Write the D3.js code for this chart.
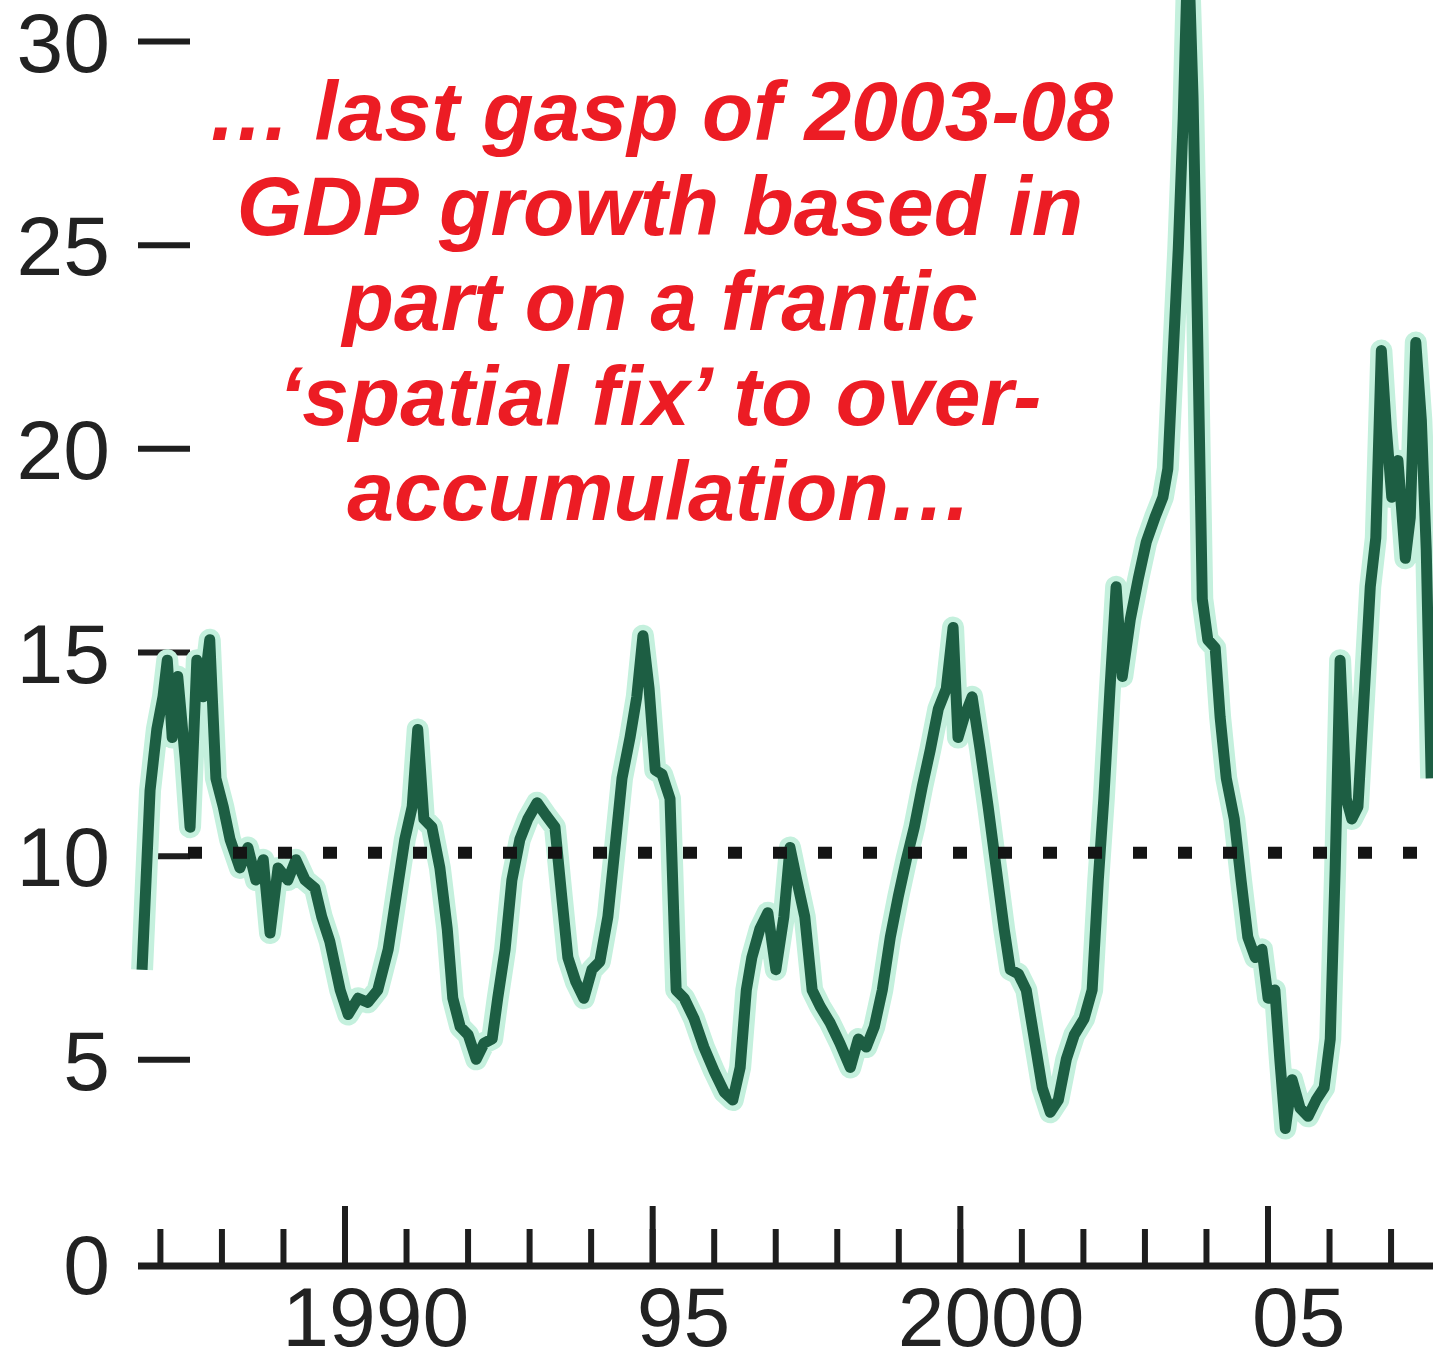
<!DOCTYPE html>
<html>
<head>
<meta charset="utf-8">
<script src="https://cdn.jsdelivr.net/npm/d3@7"></script>
<style>
  html, body { margin: 0; padding: 0; background: #ffffff; }
  svg { display: block; }
</style>
</head>
<body>
<script>
// ---- Data ----
const years = [1986.71,1986.84,1986.95,1987.05,1987.12,1987.20,1987.29,1987.41,1987.49,1987.60,1987.70,1987.81,1987.91,
 1988.03,1988.14,1988.30,1988.43,1988.56,1988.68,1988.79,1988.92,1989.08,1989.21,1989.36,1989.52,1989.63,1989.76,1989.93,
 1990.06,1990.22,1990.38,1990.54,1990.71,1990.84,1990.98,1991.10,1991.19,1991.29,1991.42,1991.55,1991.67,1991.76,1991.88,
 1992.01,1992.14,1992.27,1992.40,1992.49,1992.61,1992.72,1992.85,1992.98,1993.13,1993.27,1993.42,1993.53,1993.63,1993.76,1993.89,
 1994.02,1994.15,1994.28,1994.41,1994.51,1994.64,1994.75,1994.85,1994.95,1995.05,1995.16,1995.29,1995.39,1995.52,1995.68,1995.84,
 1996.01,1996.17,1996.31,1996.43,1996.53,1996.62,1996.75,1996.88,1997.01,1997.14,1997.24,1997.35,1997.48,1997.60,1997.73,1997.89,
 1998.05,1998.22,1998.35,1998.48,1998.61,1998.74,1998.87,1999.00,1999.13,1999.26,1999.39,1999.52,1999.65,1999.78,1999.89,1999.97,
 2000.07,2000.20,2000.33,2000.46,2000.59,2000.72,2000.82,2000.95,2001.08,2001.21,2001.34,2001.47,2001.60,2001.73,2001.86,
 2002.02,2002.15,2002.25,2002.34,2002.44,2002.54,2002.64,2002.77,2002.90,2003.03,2003.17,2003.30,2003.38,2003.47,2003.55,2003.63,
 2003.71,2003.79,2003.86,2003.94,2004.03,2004.15,2004.23,2004.33,2004.46,2004.57,2004.68,2004.80,2004.91,2005.01,2005.12,2005.20,
 2005.29,2005.40,2005.53,2005.66,2005.79,2005.92,2006.02,2006.10,2006.18,2006.28,2006.37,2006.47,2006.57,2006.67,2006.76,2006.85,
 2006.93,2007.02,2007.12,2007.24,2007.32,2007.41,2007.50,2007.58,2007.66];
const growth = [7.2,11.6,13.1,13.9,14.8,12.9,14.4,12.4,10.7,14.8,13.9,15.3,11.9,
 11.2,10.4,9.7,10.2,9.4,9.9,8.1,9.7,9.4,9.9,9.4,9.2,8.5,7.9,6.7,
 6.1,6.5,6.4,6.7,7.7,9.0,10.4,11.2,13.1,10.9,10.7,9.7,8.2,6.5,5.8,
 5.6,5.0,5.4,5.5,6.5,7.7,9.4,10.4,10.9,11.3,11.0,10.7,9.0,7.5,6.9,6.5,
 7.2,7.4,8.5,10.4,11.9,12.9,13.9,15.4,14.1,12.1,12.0,11.4,6.7,6.5,6.0,5.3,
 4.7,4.2,4.0,4.8,6.7,7.5,8.2,8.6,7.2,8.5,10.2,9.4,8.5,6.7,6.3,5.9,
 5.4,4.8,5.5,5.3,5.8,6.7,8.0,9.0,9.9,10.7,11.7,12.6,13.6,14.1,15.6,12.9,
 13.4,13.9,12.6,11.2,9.7,8.2,7.2,7.1,6.7,5.5,4.3,3.7,4.0,5.0,5.6,
 6.0,6.7,9.4,11.4,14.1,16.6,14.4,15.8,16.8,17.7,18.3,18.8,19.5,22.4,24.9,28.1,
 32.5,28.6,23.2,16.3,15.3,15.1,13.4,11.9,10.9,9.4,8.0,7.5,7.7,6.5,6.7,5.0,
 3.3,4.5,3.8,3.6,4.0,4.3,5.5,9.7,14.8,11.4,10.9,11.2,13.9,16.6,17.8,22.4,
 20.5,18.8,19.7,17.3,18.3,22.6,20.7,17.5,11.9];

const yTicks = [0, 5, 10, 15, 20, 25, 30];
const minorYears = d3.range(1987, 2008);
const majorYears = [1990, 1995, 2000, 2005];
const xLabels = ["1990", "95", "2000", "05"];
const refValue = 10;
const note = ["\u2026 last gasp of 2003-08", "GDP growth based in", "part on a frantic",
              "\u2018spatial fix\u2019 to over-", "accumulation\u2026"];

// ---- Layout ----
const W = 1433, H = 1355;
const svg = d3.select("body").append("svg").attr("width", W).attr("height", H);
svg.append("rect").attr("width", W).attr("height", H).attr("fill", "#ffffff");

const x = d3.scaleLinear().domain([1990, 2005]).range([344.5, 1267.5]);
const y = d3.scaleLinear().domain([0, 30]).range([1263, 41]);
const FONT = "'Liberation Sans', Arial, Helvetica, sans-serif";

// Y axis: labels + short dashes
const yAxis = d3.axisLeft(y).tickValues(yTicks).tickSize(52).tickPadding(28)
  .tickFormat(d3.format("d"));
const gy = svg.append("g").attr("transform", "translate(190,0)").call(yAxis);
gy.select(".domain").remove();
gy.selectAll(".tick line").attr("stroke", "#1e1e1e").attr("stroke-width", 6)
  .filter(d => d === 0).remove();
gy.selectAll(".tick text").attr("font-family", FONT).attr("font-size", 84)
  .attr("fill", "#222").attr("dy", "0.36em");

// X axis: minor ticks, major ticks, baseline
const baseY = 1266;
const gxMinor = svg.append("g").attr("transform", `translate(0,${baseY})`)
  .call(d3.axisBottom(x).tickValues(minorYears).tickSize(-37).tickFormat(""));
const gxMajor = svg.append("g").attr("transform", `translate(0,${baseY})`)
  .call(d3.axisBottom(x).tickValues(majorYears).tickSize(-60).tickFormat(""));
[gxMinor, gxMajor].forEach(g => {
  g.select(".domain").remove();
  g.selectAll(".tick line").attr("stroke", "#1e1e1e").attr("stroke-width", 6);
});
svg.append("line").attr("x1", 138).attr("x2", W).attr("y1", baseY).attr("y2", baseY)
  .attr("stroke", "#1e1e1e").attr("stroke-width", 7);

// X labels (centred in mid-year, as in the original)
const gxLab = svg.append("g").attr("transform", `translate(0,${baseY})`)
  .call(d3.axisBottom(x).tickValues(majorYears.map(v => v + 0.5)).tickSize(0).tickPadding(0)
    .tickFormat((d, i) => xLabels[i]));
gxLab.select(".domain").remove();
gxLab.selectAll(".tick text").attr("font-family", FONT).attr("font-size", 84)
  .attr("fill", "#222").attr("dy", "0.95em");

// Data line
const data = years.map((yr, i) => [yr, growth[i]]);
const line = d3.line().x(d => x(d[0])).y(d => y(d[1]));
svg.append("path").datum(data).attr("d", line).attr("fill", "none")
  .attr("stroke", "#c4f0dd").attr("stroke-width", 22).attr("stroke-linejoin", "round");
svg.append("path").datum(data).attr("d", line).attr("fill", "none")
  .attr("stroke", "#1d5e43").attr("stroke-width", 11).attr("stroke-linejoin", "round");

// Dotted reference line at 10
svg.append("line").attr("x1", 188).attr("x2", W).attr("y1", y(refValue) - 3).attr("y2", y(refValue) - 3)
  .attr("stroke", "#141414").attr("stroke-width", 12).attr("stroke-dasharray", "14 31");

// Red annotation
const tg = svg.append("text").attr("font-family", FONT).attr("font-size", 84)
  .attr("font-weight", "bold").attr("font-style", "italic").attr("fill", "#ec1c24")
  .attr("text-anchor", "middle");
note.forEach((t, i) => {
  tg.append("tspan").attr("x", 660).attr("y", 140 + i * 95).text(t);
});
</script>
</body>
</html>
